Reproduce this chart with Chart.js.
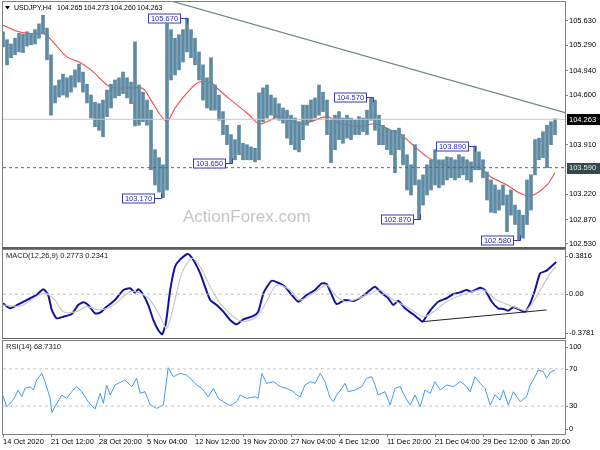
<!DOCTYPE html>
<html>
<head>
<meta charset="utf-8">
<script src="https://cdn.jsdelivr.net/npm/chart.js@4.4.1/dist/chart.umd.min.js"></script>
<style>
  html, body { margin: 0; padding: 0; background: #fff; }
  #wrap { position: relative; width: 600px; height: 450px; overflow: hidden; }
  #wrap canvas { position: absolute; left: 0; }
</style>
</head>
<body>
<div id="wrap">
  <canvas id="price-chart" width="600" height="250" style="top:0"></canvas>
  <canvas id="macd-chart" width="600" height="90" style="top:249px"></canvas>
  <canvas id="rsi-chart" width="600" height="110" style="top:340px"></canvas>
</div>
<script>
// USDJPY H4 bars, one bar every ~8 hours of the original, high / low
const priceHigh = [
  105.48, 105.37, 105.31, 105.39, 105.46, 105.45, 105.48, 105.46, 105.51, 105.59,
  105.71, 105.53, 105.16, 104.73, 104.81, 104.89, 104.84, 104.87, 104.95, 105.03,
  104.92, 104.75, 104.60, 104.50, 104.48, 104.53, 104.67, 104.75, 104.81, 104.84,
  104.92, 104.84, 104.78, 105.34, 104.74, 104.64, 104.53, 104.39, 103.84, 103.73,
  103.63, 105.59, 105.51, 105.39, 105.44, 105.51, 105.67, 105.51, 105.39, 105.20,
  105.02, 104.84, 105.12, 104.74, 104.60, 104.37, 104.18, 104.05, 103.98, 104.18,
  103.93, 103.91, 103.88, 103.86, 104.63, 104.70, 104.74, 104.60, 104.56, 104.48,
  104.42, 104.39, 104.32, 104.28, 104.23, 104.46, 104.46, 104.53, 104.56, 104.74,
  104.64, 104.53, 104.25, 104.32, 104.37, 104.28, 104.32, 104.28, 104.25, 104.30,
  104.28, 104.39, 104.57, 104.53, 104.32, 104.18, 104.14, 104.11, 104.11, 104.14,
  104.05, 103.77, 103.63, 103.91, 103.42, 103.49, 103.63, 103.70, 103.84, 103.70,
  103.70, 103.74, 103.73, 103.70, 103.77, 103.74, 103.70, 103.67, 103.89, 103.81,
  103.70, 103.53, 103.42, 103.35, 103.28, 103.35, 103.21, 103.28, 103.07, 103.00,
  102.93, 103.42, 103.49, 103.98, 104.00, 104.09, 104.18, 104.23, 104.27,
];
const priceLow = [
  105.27, 105.02, 105.12, 105.16, 105.20, 105.19, 105.28, 105.30, 105.31, 105.39,
  105.45, 105.09, 104.32, 104.49, 104.57, 104.60, 104.57, 104.64, 104.71, 104.78,
  104.64, 104.49, 104.28, 104.16, 104.11, 104.02, 104.30, 104.42, 104.56, 104.59,
  104.62, 104.56, 104.48, 104.17, 104.18, 104.23, 104.18, 103.56, 103.35, 103.25,
  103.17, 103.28, 104.81, 104.88, 104.95, 105.06, 105.20, 105.12, 105.02, 104.81,
  104.53, 104.42, 104.39, 104.39, 104.25, 104.05, 103.91, 103.65, 103.70, 103.77,
  103.70, 103.70, 103.70, 103.67, 103.70, 104.23, 104.28, 104.32, 104.28, 104.25,
  104.21, 104.00, 103.91, 103.84, 103.81, 103.98, 104.18, 104.23, 104.28, 104.32,
  104.37, 104.05, 103.66, 103.84, 103.98, 103.93, 104.00, 103.98, 104.05, 104.05,
  104.09, 104.05, 104.25, 104.11, 103.91, 103.91, 103.84, 103.77, 103.52, 103.84,
  103.63, 103.28, 103.21, 103.35, 102.87, 103.07, 103.21, 103.28, 103.35, 103.31,
  103.35, 103.42, 103.45, 103.42, 103.45, 103.49, 103.42, 103.39, 103.56, 103.56,
  103.45, 103.14, 102.97, 102.96, 103.00, 103.07, 102.70, 102.93, 102.80, 102.58,
  102.61, 102.80, 103.00, 103.49, 103.70, 103.73, 103.59, 103.91, 104.05,
];

// red moving average, [bar index, price]
const maPoints = [
  [0, 105.57], [4, 105.48], [8, 105.45], [10, 105.46], [12, 105.37], [16, 105.13],
  [19, 105.06], [22, 104.95], [26, 104.74], [28, 104.70], [32, 104.70], [35, 104.69],
  [37, 104.53], [39, 104.35], [41, 104.23], [43, 104.42], [46, 104.63], [49, 104.78],
  [52, 104.77], [54, 104.67], [57, 104.53], [61, 104.35], [64, 104.20], [66, 104.23],
  [69, 104.30], [72, 104.24], [75, 104.20], [77, 104.23], [81, 104.30], [84, 104.21],
  [89, 104.16], [93, 104.20], [97, 104.11], [99, 104.07], [102, 103.93], [106, 103.74],
  [109, 103.66], [112, 103.60], [116, 103.60], [119, 103.60], [122, 103.46], [126, 103.35],
  [129, 103.24], [131, 103.20], [133, 103.22], [136, 103.35], [138, 103.52],
];

// swing labels: [bar index, price, 'H' high / 'L' low]
const pivots = [
  [46, 105.67, 'H'], [39.5, 103.17, 'L'], [57.2, 103.65, 'L'], [92.6, 104.57, 'H'],
  [104.3, 102.87, 'L'], [118, 103.89, 'H'], [129.3, 102.58, 'L'],
];

const priceTicks = [105.63, 105.29, 104.94, 104.60, 103.91, 103.22, 102.87, 102.53];
const lastPrice = 104.263;
const supportLevel = 103.59;
const trendPoints = [[40, 105.94], [140.5, 104.355]];
const titleQuote = ['104.265', '104.273', '104.260', '104.263'];

// MACD(12,26,9)
const macdPoints = [
  [0, -0.079], [1.8, -0.122], [4.3, -0.079], [6.8, -0.035], [8.4, -0.007], [10.1, 0.042],
  [11.3, -0.007], [12.2, -0.136], [13.4, -0.208], [15.1, -0.194], [17.2, -0.171], [18.8, -0.093],
  [20.1, -0.070], [21.3, -0.093], [23, -0.165], [24.3, -0.160], [25.9, -0.108], [28, -0.050],
  [30.1, 0.036], [31.8, 0.051], [33, 0.013], [33.8, 0.042], [35.1, -0.007], [36.3, -0.093],
  [37.6, -0.223], [38.8, -0.309], [39.8, -0.346], [40.7, -0.251], [41.8, 0.036], [43, 0.237],
  [44.3, 0.301], [46.2, 0.347], [47.6, 0.295], [49.3, 0.180], [50.5, 0.065], [51.8, -0.050],
  [53.4, -0.093], [55.1, -0.151], [56.8, -0.223], [58.4, -0.260], [60.1, -0.217], [62.6, -0.188],
  [63.8, -0.151], [65.1, 0.008], [66.3, 0.079], [67.2, 0.117], [68.8, 0.099], [70.5, 0.065],
  [72.2, -0.007], [73.8, -0.065], [75.9, -0.007], [78, 0.036], [79.7, 0.094], [80.9, 0.088],
  [82.2, -0.007], [83.4, -0.085], [85.5, -0.050], [87.6, -0.059], [89.7, -0.022], [91.8, 0.036],
  [93, 0.065], [94.7, 0.008], [96.3, -0.035], [97.6, -0.093], [98.8, -0.056], [100.5, -0.122],
  [102.2, -0.165], [103.8, -0.208], [104.9, -0.237], [106.3, -0.165], [107.6, -0.108], [108.8, -0.065],
  [110.9, -0.035], [112.6, 0.002], [114.3, 0.016], [115.9, 0.036], [117.2, 0.022], [119.3, 0.056],
  [120.5, 0.036], [122.2, -0.065], [123.8, -0.122], [125.1, -0.128], [126.3, -0.142], [127.6, -0.113],
  [129.3, -0.136], [130.5, -0.151], [131.8, -0.079], [133, 0.036], [134.3, 0.180], [135.9, 0.203],
  [137.2, 0.244], [138.3, 0.277],
];
const signalPoints = [
  [0, -0.093], [4.3, -0.102], [10.1, 0.008], [12.6, -0.035], [15.1, -0.151], [18.4, -0.151],
  [20.9, -0.108], [24.3, -0.136], [27.6, -0.093], [31.8, 0.022], [34.3, 0.008], [36.8, -0.050],
  [39.3, -0.194], [40.9, -0.294], [42.6, -0.108], [44.7, 0.180], [47.2, 0.310], [49.3, 0.237],
  [51.8, 0.065], [54.3, -0.079], [57.6, -0.194], [60.1, -0.237], [63.4, -0.194], [65.9, -0.065],
  [68.4, 0.079], [71.8, 0.036], [74.3, -0.050], [77.6, 0.008], [80.9, 0.079], [83.4, -0.022],
  [85.9, -0.065], [90.9, -0.007], [94.3, 0.036], [97.6, -0.050], [100.9, -0.108], [105.1, -0.194],
  [107.6, -0.151], [110.9, -0.065], [115.9, 0.008], [120.1, 0.036], [123.4, -0.050], [127.6, -0.108],
  [130.9, -0.136], [134.3, 0.036], [136.8, 0.180], [138.3, 0.237],
];
const macdTrendPoints = [[104.9, -0.237], [135.9, -0.136]];
const macdRange = [-0.3781, 0.3816];
const macdAxisLabels = [0.3816, 0, -0.3781];
const macdTitle = 'MACD(12,26,9) 0.2773 0.2341';

// RSI(14)
const rsiPoints = [
  [0, 40.9], [0.9, 29.4], [2.2, 34.7], [3, 40.1], [3.8, 47.3], [4.7, 40.1], [5.5, 49.1],
  [6.8, 50.9], [7.6, 47.3], [8.4, 58.1], [9.7, 65.2], [10.5, 56.3], [11.8, 38.4], [12.2, 22.9],
  [13, 29.4], [14.7, 41.9], [15.9, 38.4], [17.2, 45.5], [18.4, 50.9], [19.7, 45.5], [21.3, 34.7],
  [23, 26.9], [24.3, 43.7], [25.1, 33], [25.9, 52.7], [26.8, 41.9], [28, 52.7], [29.7, 56.3],
  [30.5, 58.1], [32.2, 50.9], [33.4, 59.9], [34.3, 43.7], [35.5, 45.5], [36.8, 31.2], [38.4, 27.6],
  [40.1, 31.2], [41.3, 71.3], [42.6, 61.6], [44.3, 65.2], [45.9, 63.4], [47.2, 58.1], [48.4, 52.7],
  [49.7, 49.1], [51.3, 40.1], [52.6, 49.1], [53.8, 38.4], [55.1, 34.7], [56.8, 30.5], [58.4, 34.7],
  [59.3, 41.9], [60.9, 38.4], [63, 40.1], [63.8, 38.4], [64.7, 65.2], [65.9, 54.5], [67.6, 56.3],
  [69.3, 50.9], [70.9, 49.1], [72.6, 45.5], [73.4, 41.9], [74.3, 40.1], [75.5, 52.7], [76.8, 56.3],
  [78, 54.5], [79.3, 65.2], [80.5, 56.3], [81.8, 38.4], [82.6, 34.7], [83.4, 41.9], [84.7, 49.1],
  [85.5, 54.5], [86.3, 45.5], [88, 47.3], [89.7, 50.9], [90.9, 59.9], [92.2, 61.6], [93, 52.7],
  [93.8, 41.9], [95.5, 45.5], [96.8, 31.2], [98, 49.1], [99.3, 50.9], [100.5, 40.1], [101.8, 31.2],
  [103, 41.9], [104.3, 29.4], [105.5, 47.3], [106.8, 43.7], [108, 56.3], [109.3, 47.3], [110.9, 52.7],
  [112.6, 50.9], [114.3, 56.3], [115.5, 52.7], [116.8, 45.5], [118, 61.6], [119.3, 54.5], [120.5, 49.1],
  [121.8, 31.2], [123, 41.9], [124.3, 36.6], [125.1, 47.3], [126.3, 31.2], [127.6, 45.5], [129.3, 34.7],
  [130.9, 40.1], [131.8, 52.7], [133, 61.6], [133.8, 68.8], [135.1, 67], [135.9, 59.9], [136.8, 66.3],
  [138, 68.8],
];
const rsiLevels = [70, 30];
const rsiAxisLabels = [100, 70, 30, 0];
const rsiTitle = 'RSI(14) 68.7310';

// time axis
const timeTickIdx = [0, 12, 24, 36, 48, 60, 72, 84, 96, 108, 120, 132];
const timeLabels = [
  '14 Oct 2020', '21 Oct 12:00', '28 Oct 20:00', '5 Nov 04:00', '12 Nov 12:00', '19 Nov 20:00',
  '27 Nov 04:00', '4 Dec 12:00', '11 Dec 20:00', '21 Dec 04:00', '29 Dec 12:00', '6 Jan 20:00',
];
const X_MAX = 140.5;

const FONT = "'Liberation Sans', Arial, sans-serif";
const FS = 7.5;
const COLORS = {
  bar: '#5f8aa3',
  ma: '#f24848',
  trend: '#6a8886',
  last: '#c8c8c8',
  level: '#4f6d69',
  frame: '#7f7f7f',
  sep: '#5e5e5e',
  macd: '#12129e',
  signal: '#c8c8c8',
  rsi: '#3f9df2',
  dash: '#c4c4c4',
  pivotText: '#2b2ba8',
  pivotBorder: '#3a3ab0',
  text: '#000000',
};

const toXY = (pts) => pts.map(([x, y]) => ({ x, y }));
const hLine = (v) => [{ x: 0, y: v }, { x: X_MAX, y: v }];

function xScale(show) {
  return {
    type: 'linear',
    min: 0,
    max: X_MAX,
    offset: false,
    display: show,
    grid: { drawOnChartArea: false, offset: false, tickLength: 3, color: COLORS.frame },
    border: { display: true, color: COLORS.frame },
    ticks: {
      align: 'start',
      padding: 0,
      maxRotation: 0,
      autoSkip: false,
      color: COLORS.text,
      font: { family: FONT, size: FS },
      callback: (v) => timeLabels[timeTickIdx.indexOf(v)] ?? '',
    },
    afterBuildTicks: (s) => { s.ticks = timeTickIdx.map((v) => ({ value: v })); },
    afterFit: (s) => {
      if (!show) return;
      s.height = 16;
      s.paddingLeft = 0;
      s.paddingRight = 0;
    },
  };
}

function yScale(min, max, ticks, showLabels) {
  return {
    position: 'right',
    min,
    max,
    grid: { drawOnChartArea: false, drawTicks: showLabels, tickLength: 3, color: COLORS.frame },
    border: { color: COLORS.frame },
    ticks: {
      display: showLabels,
      padding: 1,
      color: COLORS.text,
      font: { family: FONT, size: FS },
      callback: (v) => v.toFixed(3),
    },
    afterBuildTicks: (s) => { s.ticks = ticks.map((v) => ({ value: v })); },
    afterFit: (s) => { s.width = 35; s.paddingTop = 0; s.paddingBottom = 0; },
  };
}

const BASE = {
  responsive: false,
  animation: false,
  devicePixelRatio: 1,
  events: [],
  plugins: { legend: { display: false }, tooltip: { enabled: false } },
};

function lineDs(points, color, width, extra = {}) {
  return {
    type: 'line',
    data: points,
    borderColor: color,
    borderWidth: width,
    pointRadius: 0,
    tension: 0,
    fill: false,
    ...extra,
  };
}

// frame around each panel plus the dark separator under it
function framePlugin(sepBelow) {
  return {
    id: 'frame',
    afterDraw(chart) {
      const { ctx, chartArea: a } = chart;
      ctx.save();
      ctx.strokeStyle = COLORS.frame;
      ctx.lineWidth = 1;
      ctx.strokeRect(a.left - 0.5, a.top - 0.5, a.right - a.left + 1, a.bottom - a.top + 1);
      if (sepBelow) {
        ctx.fillStyle = COLORS.sep;
        ctx.fillRect(a.left - 1, a.bottom, a.right - a.left + 2, 2);
      }
      ctx.restore();
    },
  };
}

function sideLabels(values, fmt) {
  return {
    id: 'sideLabels',
    afterDraw(chart) {
      const { ctx, chartArea: a } = chart;
      const ys = chart.scales.y;
      ctx.save();
      ctx.font = `${FS}px ${FONT}`;
      ctx.fillStyle = COLORS.text;
      ctx.strokeStyle = COLORS.frame;
      ctx.textBaseline = 'middle';
      values.forEach((v) => {
        const y = Math.min(Math.max(ys.getPixelForValue(v), a.top + 5.5), a.bottom - 5.5);
        ctx.beginPath();
        ctx.moveTo(a.right, Math.round(y) + 0.5);
        ctx.lineTo(a.right + 3, Math.round(y) + 0.5);
        ctx.stroke();
        ctx.fillText(fmt(v), a.right + 4, y);
      });
      ctx.restore();
    },
  };
}

function panelTitle(text) {
  return {
    id: 'panelTitle',
    afterDraw(chart) {
      const { ctx, chartArea: a } = chart;
      ctx.save();
      ctx.font = `${FS}px ${FONT}`;
      ctx.fillStyle = '#222';
      ctx.textBaseline = 'middle';
      ctx.fillText(text, a.left + 3, a.top + 6);
      ctx.restore();
    },
  };
}

const pricePlugin = {
  id: 'priceDecor',
  beforeDatasetsDraw(chart) {
    const { ctx } = chart;
    ctx.save();
    ctx.font = `17px 'Liberation Sans', Arial, sans-serif`;
    ctx.fillStyle = '#c4c4c4';
    ctx.textBaseline = 'alphabetic';
    ctx.fillText('ActionForex.com', 183, 222);
    ctx.restore();
  },
  afterDatasetsDraw(chart) {
    const { ctx, chartArea: a } = chart;
    const xs = chart.scales.x;
    const ys = chart.scales.y;
    ctx.save();
    ctx.font = `${FS}px ${FONT}`;
    ctx.textBaseline = 'middle';

    // swing high / low tags
    pivots.forEach(([idx, val, kind]) => {
      const px = Math.round(xs.getPixelForValue(idx)) + 0.5;
      const py = Math.round(ys.getPixelForValue(val)) + 0.5;
      const w = 32;
      const h = 9;
      const right = px - 7;
      ctx.fillStyle = '#fff';
      ctx.fillRect(right - w, py - h / 2, w, h);
      ctx.strokeStyle = COLORS.pivotBorder;
      ctx.lineWidth = 1;
      ctx.strokeRect(right - w, py - h / 2, w, h);
      ctx.beginPath();
      ctx.moveTo(right, py);
      ctx.lineTo(px, py);
      ctx.lineTo(px, py + (kind === 'H' ? 5 : -5));
      ctx.stroke();
      ctx.fillStyle = COLORS.pivotText;
      ctx.textAlign = 'center';
      ctx.fillText(val.toFixed(3), right - w / 2, py + 0.5);
    });

    // symbol title
    ctx.textAlign = 'left';
    ctx.fillStyle = COLORS.text;
    ctx.beginPath();
    ctx.moveTo(5, 6); ctx.lineTo(10, 6); ctx.lineTo(7.5, 9.5); ctx.closePath();
    ctx.fill();
    ctx.font = `7px ${FONT}`;
    ctx.fillText('USDJPY,H4', 14, 8);
    titleQuote.forEach((q, k) => ctx.fillText(q, 57 + k * 26.7, 8));

    // price tags on the right axis
    ctx.font = `${FS}px ${FONT}`;
    const tag = (v, bg, fg) => {
      const y = ys.getPixelForValue(v);
      ctx.fillStyle = bg;
      ctx.fillRect(a.right + 2, Math.round(y) - 5, 33, 11);
      ctx.fillStyle = fg;
      ctx.fillText(v.toFixed(3), a.right + 4, y + 0.5);
    };
    tag(lastPrice, '#000', '#fff');
    tag(supportLevel, '#34494a', '#e8eeee');
    ctx.restore();
  },
};

const bars = priceHigh.map((h, i) => ({ x: i, y: [priceLow[i], h] }));

new Chart(document.getElementById('price-chart'), {
  data: {
    datasets: [
      lineDs(hLine(lastPrice), COLORS.last, 1),
      lineDs(hLine(supportLevel), COLORS.level, 1, { borderDash: [3, 3] }),
      {
        type: 'bar',
        data: bars,
        backgroundColor: COLORS.bar,
        barThickness: 3,
        borderWidth: 0,
      },
      lineDs(toXY(maPoints), COLORS.ma, 1.1, { tension: 0.3 }),
      lineDs(toXY(trendPoints), COLORS.trend, 1.2),
    ],
  },
  options: {
    ...BASE,
    layout: { padding: { left: 3, top: 2, right: 0, bottom: 3 } },
    scales: { x: xScale(false), y: yScale(102.487, 105.894, priceTicks, true) },
  },
  plugins: [framePlugin(true), pricePlugin],
});

new Chart(document.getElementById('macd-chart'), {
  data: {
    datasets: [
      lineDs(hLine(0), COLORS.dash, 1, { borderDash: [3, 3] }),
      lineDs(toXY(signalPoints), COLORS.signal, 1.2, { tension: 0.3 }),
      lineDs(toXY(macdPoints), COLORS.macd, 2, { tension: 0.2 }),
      lineDs(toXY(macdTrendPoints), '#222', 1),
    ],
  },
  options: {
    ...BASE,
    layout: { padding: { left: 3, top: 1, right: 0, bottom: 1 } },
    scales: { x: xScale(false), y: yScale(macdRange[0], macdRange[1], [], false) },
  },
  plugins: [
    framePlugin(true),
    sideLabels(macdAxisLabels, (v) => (v === 0 ? '0.00' : v.toFixed(4))),
    panelTitle(macdTitle),
  ],
});

new Chart(document.getElementById('rsi-chart'), {
  data: {
    datasets: [
      ...rsiLevels.map((v) => lineDs(hLine(v), COLORS.dash, 1, { borderDash: [3, 3] })),
      lineDs(toXY(rsiPoints), COLORS.rsi, 1),
    ],
  },
  options: {
    ...BASE,
    layout: { padding: { left: 3, top: 1, right: 0, bottom: 0 } },
    scales: { x: xScale(true), y: yScale(0, 100, [], false) },
  },
  plugins: [framePlugin(false), sideLabels(rsiAxisLabels, (v) => String(v)), panelTitle(rsiTitle)],
});
</script>
</body>
</html>
